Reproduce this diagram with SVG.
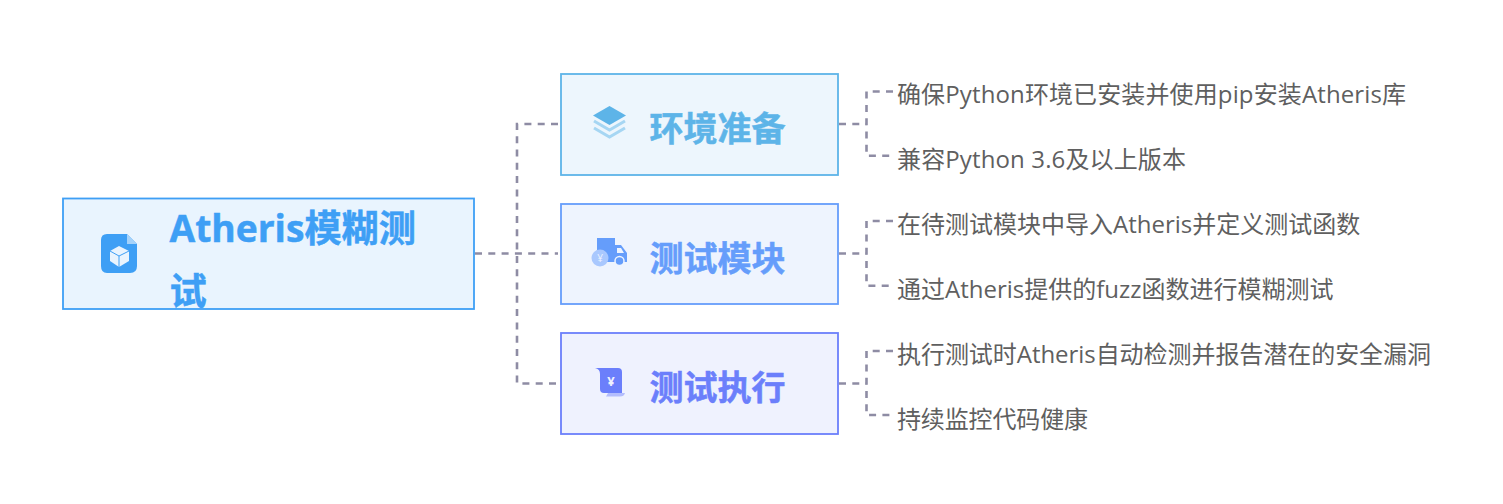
<svg xmlns="http://www.w3.org/2000/svg" width="1503" height="504" viewBox="0 0 1503 504">
<style>
text{font-family:"Open Sans","Noto Sans CJK SC",sans-serif}
.c{fill:none;stroke:#8e8ca4;stroke-width:2.600;stroke-dasharray:7 6.300}
.b{stroke-width:1.8}
.t{font-weight:700;font-size:34px;stroke-width:.5}
.r{font-weight:700;font-size:37.200px;fill:#3e9ff5;stroke:#3e9ff5;stroke-width:.5}
.l{font-size:24px;fill:#5f5f5f}
</style>
<rect width="1503" height="504" fill="#fff"/>
<g id="connectors">
<path class="c" d="M475 253.500H558"/>
<path class="c" d="M558 124H517V383.500H558"/>
<path class="c" d="M839 124H866.500"/>
<path class="c" d="M893 91.500H866.500V155.700H893"/>
<path class="c" d="M839 253.500H866.500"/>
<path class="c" d="M893 221H866.500V285.700H893"/>
<path class="c" d="M839 383.500H866.500"/>
<path class="c" d="M893 351H866.500V415H893"/>
</g>
<g id="root">
<rect class="b" x="63" y="198.500" width="411" height="110.500" fill="#e9f4fe" stroke="#3e9ff5"/>
<path d="M107 234H127L137 244V266Q137 273 130 273H107Q101 273 101 266V240Q101 234 107 234Z" fill="#3e9ff5"/>
<path d="M127 234L137 244H127Z" fill="#a5d2fa"/>
<path d="M119 246L129 251V261L119 267L110 261V251Z" fill="#e9f4fe"/>
<path d="M110 251L119 256L129 251M119 256V267" fill="none" stroke="#3e9ff5" stroke-width="1"/>
<text class="r" x="169.500" y="242">Atheris模糊测</text>
<text class="r" x="169.500" y="305">试</text>
</g>
<g id="n1">
<rect class="b" x="561" y="74" width="277" height="101" fill="#edf6fd" stroke="#5db4e8"/>
<path d="M609.500 106L626 115.500L609.500 125L593 115.500Z" fill="#5db4e8"/>
<path d="M594 121L609.500 130L625 121M594 128L609.500 137L625 128" fill="none" stroke="#a6d6f3" stroke-width="3"/>
<text class="t" x="649.500" y="141" fill="#5db4e8" stroke="#5db4e8">环境准备</text>
</g>
<g id="n2">
<rect class="b" x="561" y="204" width="277" height="100" fill="#eef4fe" stroke="#659dfb"/>
<path d="M597 238H615V245H621L627 253V262H597Z" fill="#659dfb"/>
<path d="M617 248H621L624 253H617Z" fill="#eef4fe"/>
<circle cx="619.500" cy="261" r="4.500" fill="#659dfb" stroke="#eef4fe" stroke-width="1.500"/>
<circle cx="600" cy="258" r="8.500" fill="#a9c8fe"/>
<text x="600" y="262" font-size="10" text-anchor="middle" fill="#eef4fe">¥</text>
<text class="t" x="649.500" y="271" fill="#659dfb" stroke="#659dfb">测试模块</text>
</g>
<g id="n3">
<rect class="b" x="561" y="333" width="277" height="101" fill="#eff2fe" stroke="#6b7ffb"/>
<path d="M595 368H618Q622 368 622 372V393H604Q600 393 600 389V374Q600 369 595 368Z" fill="#6b7ffb"/>
<path d="M608 393H625Q624 396.500 620 396.500H606Z" fill="#b3bdfd"/>
<text x="611" y="386" font-size="13" font-weight="700" text-anchor="middle" fill="#eff2fe">¥</text>
<text class="t" x="649.500" y="400" fill="#6b7ffb" stroke="#6b7ffb">测试执行</text>
</g>
<g id="l1"><text class="l" x="897" y="103" textLength="509">确保Python环境已安装并使用pip安装Atheris库</text></g>
<g id="l2"><text class="l" x="897" y="168" textLength="289">兼容Python 3.6及以上版本</text></g>
<g id="l3"><text class="l" x="897" y="233">在待测试模块中导入Atheris并定义测试函数</text></g>
<g id="l4"><text class="l" x="897" y="298">通过Atheris提供的fuzz函数进行模糊测试</text></g>
<g id="l5"><text class="l" x="897" y="363" textLength="534">执行测试时Atheris自动检测并报告潜在的安全漏洞</text></g>
<g id="l6"><text class="l" x="897" y="428" textLength="191">持续监控代码健康</text></g>
</svg>
